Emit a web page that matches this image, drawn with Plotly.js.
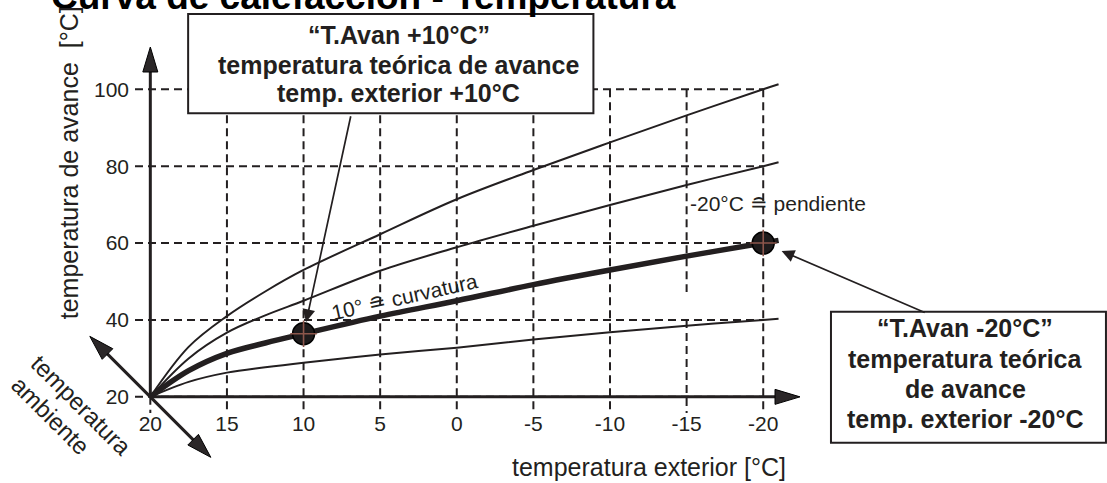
<!DOCTYPE html>
<html><head><meta charset="utf-8">
<script src="https://cdn.plot.ly/plotly-3.0.1.min.js"></script>
<style>html,body{margin:0;padding:0;background:#fff}#chart{width:1107px;height:483px}</style>
</head><body><div id="chart"></div>
<script>
// ---------- data ----------
const outdoorTemps = [20, 17.5, 15, 12.5, 10, 5, 0, -5, -10, -15, -20, -21];
const flowCurve100 = [20, 33.0, 41.0, 47.4, 53.0, 62.3, 71.4, 79.0, 86.2, 93.2, 100, 101.3];
const flowCurve80  = [20, 30.0, 36.7, 41.2, 45.0, 52.8, 58.9, 64.5, 69.9, 75.1, 80, 81.0];
const flowCurve60  = [20, 26.8, 31.3, 34.0, 36.4, 41.0, 45.0, 49.2, 53.0, 56.6, 60, 60.7];
const flowCurve40  = [20, 23.9, 26.3, 27.7, 28.9, 31.0, 32.8, 34.9, 36.8, 38.5, 40, 40.3];
const markX = [10, -20];
const markY = [36.4, 60];
const xTickVals = [20, 15, 10, 5, 0, -5, -10, -15, -20];
const xTickText = ['20', '15', '10', '5', '0', '-5', '-10', '-15', '-20'];
const yTickVals = [20, 40, 60, 80, 100];
const yTickText = ['20', '40', '60', '80', '100'];

// ---------- layout geometry ----------
const W0 = 1107, H0 = 483;
const XR = [21, -22.4], YR = [15.8, 111];
const M = {l: 135.2, r: 307.25, t: 47, b: 70.1};
const PW = W0 - M.l - M.r, PH = H0 - M.t - M.b;
const xAxisEnd = -22.4, yAxisTop = 111;
const gridGapX = -15, gridGap = [47.3, 40];
const INK = '#231f20';
const FONT = 'Liberation Sans, Arial, Helvetica, sans-serif';

const pxX = px => (px - M.l) / PW;
const pxY = py => 1 - (py - M.t) / PH;
const dX = v => (v - XR[0]) / (XR[1] - XR[0]);
const dY = v => (v - YR[0]) / (YR[1] - YR[0]);

function headPath(tx, ty, dx, dy, len, hw) {
  const n = Math.hypot(dx, dy), ux = dx / n, uy = dy / n;
  const bx = tx - ux * len, by = ty - uy * len, qx = -uy, qy = ux;
  return `M${tx},${ty} L${bx + qx * hw},${by + qy * hw} L${bx - qx * hw},${by - qy * hw} Z`;
}

// ---------- traces ----------
function curve(y, w) {
  return {x: outdoorTemps, y: y, mode: 'lines', type: 'scatter', hoverinfo: 'skip',
    line: {color: INK, width: w, shape: 'spline', smoothing: 1}};
}
const traces = [
  curve(flowCurve100, 2), curve(flowCurve80, 2), curve(flowCurve40, 2), curve(flowCurve60, 5.5),
  {x: markX, y: markY, mode: 'markers', type: 'scatter', hoverinfo: 'skip',
   marker: {symbol: 'circle', size: 22, color: '#1e1b1c', line: {color: '#000', width: 1.5}}},
  {x: markX, y: markY, mode: 'markers', type: 'scatter', hoverinfo: 'skip',
   marker: {symbol: 'cross-thin-open', size: 19, line: {color: '#a0a0a0', width: 1.6}}}
];

// ---------- shapes ----------
const shapes = [];
const gridStyle = {color: INK, width: 2, dash: '8px,5px'};
const yMaxTick = Math.max(...yTickVals), xMinTick = Math.min(...xTickVals), xMaxTick = Math.max(...xTickVals);
xTickVals.forEach(v => {
  let segs;
  if (v === xMaxTick) segs = [[yTickVals[0], YR[0]]];
  else if (v === gridGapX) segs = [[yMaxTick, gridGap[0]], [gridGap[1], YR[0]]];
  else segs = [[yMaxTick, YR[0]]];
  segs.forEach(s => shapes.push({type: 'line', xref: 'x', yref: 'y', layer: 'below',
    x0: v, x1: v, y0: s[0], y1: s[1], line: gridStyle}));
});
yTickVals.forEach(v => shapes.push({type: 'line', xref: 'x', yref: 'y', layer: 'below',
  x0: XR[0], x1: xMinTick, y0: v, y1: v, line: gridStyle}));

// axes lines
const ox = xMaxTick, oy = yTickVals[0];
shapes.push({type: 'line', xref: 'x', yref: 'y', x0: ox, y0: oy, x1: ox, y1: yAxisTop - 3, line: {color: INK, width: 3}});
shapes.push({type: 'line', xref: 'x', yref: 'y', x0: ox, y0: oy, x1: xAxisEnd + 0.8, y1: oy, line: {color: INK, width: 3}});
const headStyle = {fillcolor: '#2b2728', line: {color: '#000', width: 1}};
function pixShape(ax, ay, path, extra) {
  return Object.assign({type: 'path', xref: 'paper', yref: 'paper', xsizemode: 'pixel', ysizemode: 'pixel',
    xanchor: ax, yanchor: ay, path: path}, extra);
}
shapes.push(pixShape(dX(ox), dY(yAxisTop), headPath(0, 0, 0, 1, 25, 7.5), headStyle));
shapes.push(pixShape(dX(xAxisEnd), dY(oy), headPath(0, 0, 1, 0, 25, 7.5), headStyle));
// diagonal "temperatura ambiente" double arrow
shapes.push(pixShape(dX(ox), dY(oy), 'M-50,50 L50,-50', {line: {color: INK, width: 3}}));
shapes.push(pixShape(dX(ox), dY(oy), headPath(-60.5, 60.5, -1, 1, 25, 7.5), headStyle));
shapes.push(pixShape(dX(ox), dY(oy), headPath(60.5, -60.5, 1, -1, 25, 7.5), headStyle));

// callout boxes
shapes.push({type: 'rect', xref: 'paper', yref: 'paper', layer: 'above',
  x0: pxX(188.3), x1: pxX(593.3), y0: pxY(14), y1: pxY(113.3),
  fillcolor: '#fff', line: {color: INK, width: 2}});
shapes.push({type: 'rect', xref: 'paper', yref: 'paper', layer: 'above',
  x0: pxX(830.7), x1: pxX(1105.5), y0: pxY(311.7), y1: pxY(442.7),
  fillcolor: '#fff', line: {color: INK, width: 2}});

// ---------- annotations ----------
function txt(text, px, py, size, opts) {
  return Object.assign({text: text, xref: 'paper', yref: 'paper', x: pxX(px), y: pxY(py),
    xanchor: 'center', yanchor: 'middle', showarrow: false,
    font: {family: FONT, size: size, color: INK}}, opts || {});
}
const annotations = [
  txt('<b>Curva de calefacción - Temperatura</b>', 49, -3, 37, {xanchor: 'left', font: {family: FONT, size: 37, color: '#000'}}),
  txt('temperatura de avance\u00a0 [°C]', 69, 162.5, 25, {textangle: -90}),
  txt('temperatura exterior [°C]', 649, 467, 25),
  txt('temperatura', 81.7, 405.7, 24, {textangle: 45}),
  txt('ambiente', 50.7, 415.7, 24, {textangle: 45}),
  txt('-20°C ≘ pendiente', 778, 203.3, 21),
  txt('10° ≘ curvatura', 405, 296.7, 21, {textangle: -12.6}),
  txt('<b>“T.Avan +10°C”</b>', 399, 35, 25),
  txt('<b>temperatura teórica de avance</b>', 399, 64.5, 25),
  txt('<b>temp. exterior +10°C</b>', 399, 93, 25),
  txt('<b>“T.Avan -20°C”</b>', 965, 328.3, 25),
  txt('<b>temperatura teórica</b>', 965, 359, 25),
  txt('<b>de avance</b>', 965, 389, 25),
  txt('<b>temp. exterior -20°C</b>', 965, 419, 25),
  {x: markX[0], y: markY[0], xref: 'x', yref: 'y', text: '', showarrow: true,
   ax: 47.5, ay: -219, arrowhead: 2, arrowsize: 1.5, arrowwidth: 1.7, arrowcolor: INK, standoff: 12,
   font: {size: 1}},
  {x: markX[1], y: markY[1], xref: 'x', yref: 'y', text: '', showarrow: true,
   ax: 163, ay: 70, arrowhead: 2, arrowsize: 1.5, arrowwidth: 1.7, arrowcolor: INK, standoff: 20,
   font: {size: 1}}
];

const layout = {
  width: W0, height: H0, margin: M, autosize: false,
  paper_bgcolor: '#fff', plot_bgcolor: '#fff', showlegend: false,
  font: {family: FONT, color: INK},
  xaxis: {range: XR, tickvals: xTickVals, ticktext: xTickText, showgrid: false, zeroline: false,
    showline: false, ticks: '', tickfont: {family: FONT, size: 21, color: INK}, ticklabelstandoff: -4, fixedrange: true},
  yaxis: {range: YR, tickvals: yTickVals, ticktext: yTickText, showgrid: false, zeroline: false,
    showline: false, ticks: '', tickfont: {family: FONT, size: 21, color: INK}, ticklabelstandoff: 5, fixedrange: true},
  shapes: shapes, annotations: annotations
};
Plotly.newPlot('chart', traces, layout, {displayModeBar: false, staticPlot: true});
</script></body></html>
